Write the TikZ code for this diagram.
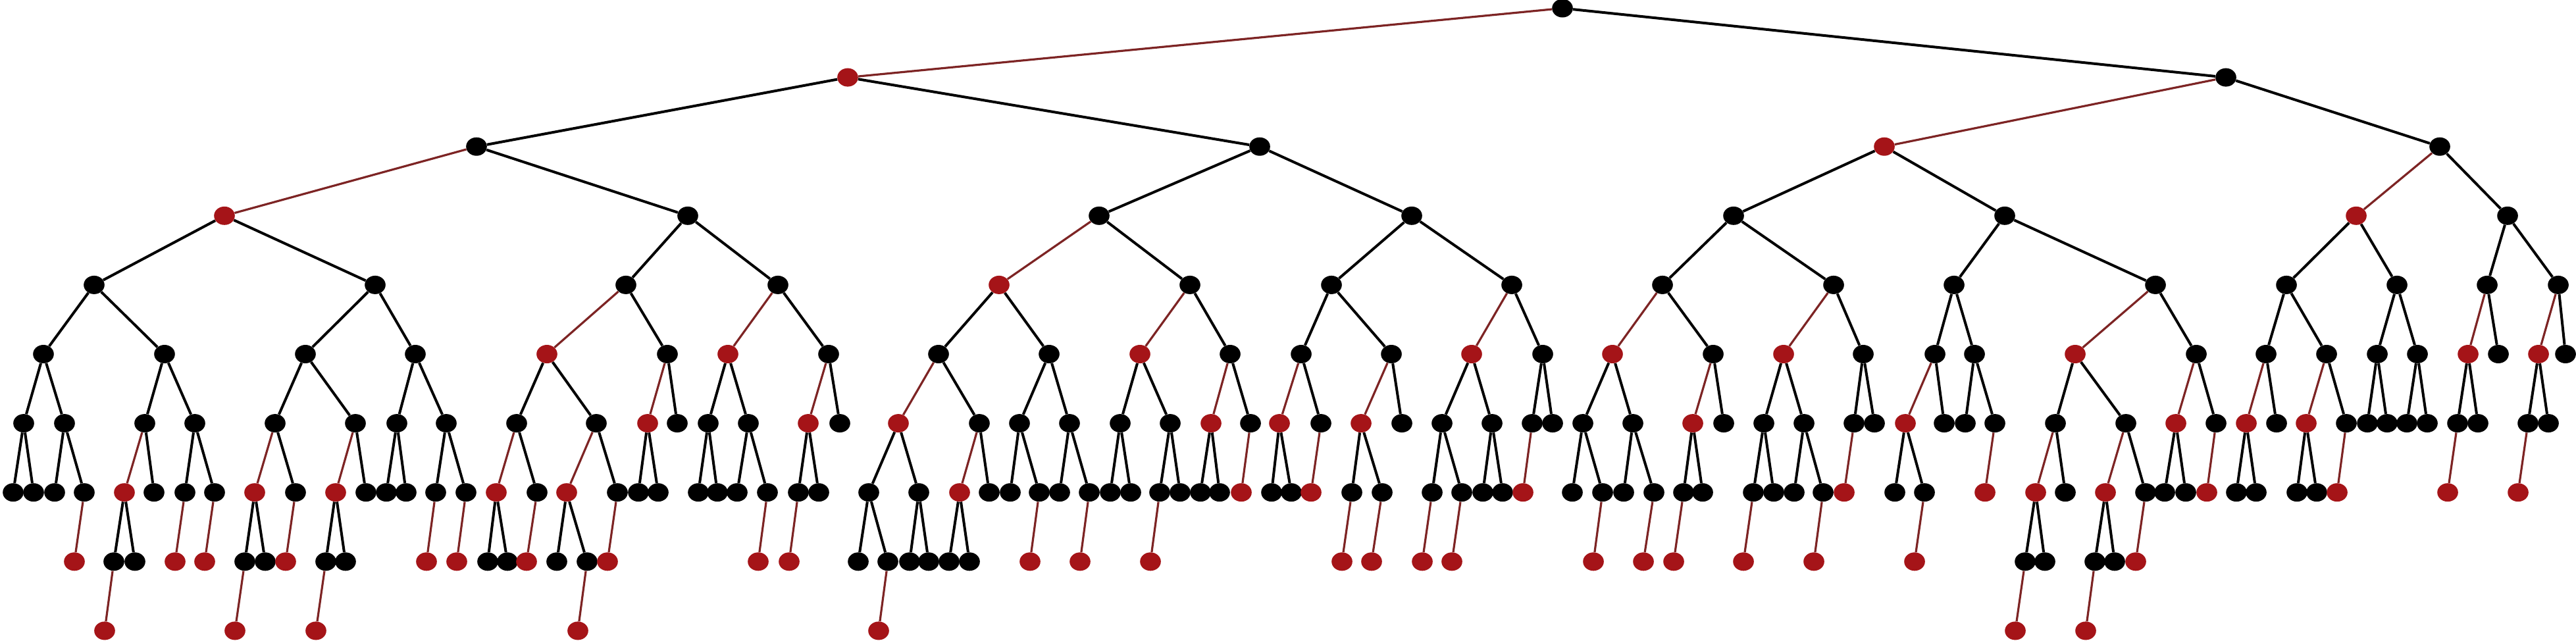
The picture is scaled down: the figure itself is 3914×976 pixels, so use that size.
\documentclass[tikz,border=0pt]{standalone}
\usetikzlibrary{shapes.geometric}
\definecolor{rbred}{RGB}{165,20,24}
\definecolor{rbedge}{RGB}{125,36,36}
\newcommand\tnd[4]{%
  \node[#3n] (n#1x#2) at (#2,{-(12.5+105.1*#1)}) {};
  \draw[#3e] (#4) -- (n#1x#2);}
\begin{document}
\begin{tikzpicture}[x=0.5pt,y=0.5pt,
  bn/.style={ellipse,fill=black,draw=none,minimum width=15.8pt,minimum height=14pt,inner sep=0pt},
  rn/.style={ellipse,fill=rbred,draw=none,minimum width=15.8pt,minimum height=14pt,inner sep=0pt},
  be/.style={draw=black,line width=2pt},
  re/.style={draw=rbedge,line width=1.6pt}]
\useasboundingbox (0,0) rectangle (3914,-976);
\fill[white] (0,0) rectangle (3914,-976);
% level 0
\node[bn] (n0x2374) at (2374,-12.5) {};
% level 1
\tnd{1}{1288}{r}{n0x2374}
\tnd{1}{3382}{b}{n0x2374}
% level 2
\tnd{2}{724}{b}{n1x1288}
\tnd{2}{1914}{b}{n1x1288}
\tnd{2}{2863}{r}{n1x3382}
\tnd{2}{3707}{b}{n1x3382}
% level 3
\tnd{3}{341}{r}{n2x724}
\tnd{3}{1045}{b}{n2x724}
\tnd{3}{1670}{b}{n2x1914}
\tnd{3}{2145}{b}{n2x1914}
\tnd{3}{2634}{b}{n2x2863}
\tnd{3}{3046}{b}{n2x2863}
\tnd{3}{3580}{r}{n2x3707}
\tnd{3}{3810}{b}{n2x3707}
% level 4
\tnd{4}{143}{b}{n3x341}
\tnd{4}{570}{b}{n3x341}
\tnd{4}{951}{b}{n3x1045}
\tnd{4}{1182}{b}{n3x1045}
\tnd{4}{1518}{r}{n3x1670}
\tnd{4}{1808}{b}{n3x1670}
\tnd{4}{2023}{b}{n3x2145}
\tnd{4}{2297}{b}{n3x2145}
\tnd{4}{2526}{b}{n3x2634}
\tnd{4}{2786}{b}{n3x2634}
\tnd{4}{2969}{b}{n3x3046}
\tnd{4}{3275}{b}{n3x3046}
\tnd{4}{3474}{b}{n3x3580}
\tnd{4}{3642}{b}{n3x3580}
\tnd{4}{3779}{b}{n3x3810}
\tnd{4}{3887}{b}{n3x3810}
% level 5
\tnd{5}{66}{b}{n4x143}
\tnd{5}{250}{b}{n4x143}
\tnd{5}{464}{b}{n4x570}
\tnd{5}{631}{b}{n4x570}
\tnd{5}{831}{r}{n4x951}
\tnd{5}{1014}{b}{n4x951}
\tnd{5}{1106}{r}{n4x1182}
\tnd{5}{1259}{b}{n4x1182}
\tnd{5}{1426}{b}{n4x1518}
\tnd{5}{1594}{b}{n4x1518}
\tnd{5}{1732}{r}{n4x1808}
\tnd{5}{1869}{b}{n4x1808}
\tnd{5}{1977}{b}{n4x2023}
\tnd{5}{2114}{b}{n4x2023}
\tnd{5}{2236}{r}{n4x2297}
\tnd{5}{2344}{b}{n4x2297}
\tnd{5}{2450}{r}{n4x2526}
\tnd{5}{2603}{b}{n4x2526}
\tnd{5}{2710}{r}{n4x2786}
\tnd{5}{2831}{b}{n4x2786}
\tnd{5}{2940}{b}{n4x2969}
\tnd{5}{3000}{b}{n4x2969}
\tnd{5}{3153}{r}{n4x3275}
\tnd{5}{3337}{b}{n4x3275}
\tnd{5}{3443}{b}{n4x3474}
\tnd{5}{3535}{b}{n4x3474}
\tnd{5}{3612}{b}{n4x3642}
\tnd{5}{3673}{b}{n4x3642}
\tnd{5}{3750}{r}{n4x3779}
\tnd{5}{3796}{b}{n4x3779}
\tnd{5}{3857}{r}{n4x3887}
\tnd{5}{3898}{b}{n4x3887}
% level 6
\tnd{6}{36}{b}{n5x66}
\tnd{6}{98}{b}{n5x66}
\tnd{6}{220}{b}{n5x250}
\tnd{6}{296}{b}{n5x250}
\tnd{6}{418}{b}{n5x464}
\tnd{6}{540}{b}{n5x464}
\tnd{6}{603}{b}{n5x631}
\tnd{6}{678}{b}{n5x631}
\tnd{6}{785}{b}{n5x831}
\tnd{6}{906}{b}{n5x831}
\tnd{6}{984}{r}{n5x1014}
\tnd{6}{1029}{b}{n5x1014}
\tnd{6}{1076}{b}{n5x1106}
\tnd{6}{1137}{b}{n5x1106}
\tnd{6}{1228}{r}{n5x1259}
\tnd{6}{1276}{b}{n5x1259}
\tnd{6}{1365}{r}{n5x1426}
\tnd{6}{1488}{b}{n5x1426}
\tnd{6}{1549}{b}{n5x1594}
\tnd{6}{1625}{b}{n5x1594}
\tnd{6}{1702}{b}{n5x1732}
\tnd{6}{1778}{b}{n5x1732}
\tnd{6}{1840}{r}{n5x1869}
\tnd{6}{1900}{b}{n5x1869}
\tnd{6}{1944}{r}{n5x1977}
\tnd{6}{2007}{b}{n5x1977}
\tnd{6}{2068}{r}{n5x2114}
\tnd{6}{2130}{b}{n5x2114}
\tnd{6}{2191}{b}{n5x2236}
\tnd{6}{2267}{b}{n5x2236}
\tnd{6}{2328}{b}{n5x2344}
\tnd{6}{2359}{b}{n5x2344}
\tnd{6}{2405}{b}{n5x2450}
\tnd{6}{2481}{b}{n5x2450}
\tnd{6}{2572}{r}{n5x2603}
\tnd{6}{2619}{b}{n5x2603}
\tnd{6}{2680}{b}{n5x2710}
\tnd{6}{2741}{b}{n5x2710}
\tnd{6}{2817}{b}{n5x2831}
\tnd{6}{2848}{b}{n5x2831}
\tnd{6}{2895}{r}{n5x2940}
\tnd{6}{2954}{b}{n5x2940}
\tnd{6}{2986}{b}{n5x3000}
\tnd{6}{3031}{b}{n5x3000}
\tnd{6}{3123}{b}{n5x3153}
\tnd{6}{3230}{b}{n5x3153}
\tnd{6}{3306}{r}{n5x3337}
\tnd{6}{3367}{b}{n5x3337}
\tnd{6}{3413}{r}{n5x3443}
\tnd{6}{3459}{b}{n5x3443}
\tnd{6}{3504}{r}{n5x3535}
\tnd{6}{3565}{b}{n5x3535}
\tnd{6}{3597}{b}{n5x3612}
\tnd{6}{3627}{b}{n5x3612}
\tnd{6}{3657}{b}{n5x3673}
\tnd{6}{3688}{b}{n5x3673}
\tnd{6}{3734}{b}{n5x3750}
\tnd{6}{3765}{b}{n5x3750}
\tnd{6}{3841}{b}{n5x3857}
\tnd{6}{3872}{b}{n5x3857}
% level 7
\tnd{7}{20}{b}{n6x36}
\tnd{7}{51}{b}{n6x36}
\tnd{7}{83}{b}{n6x98}
\tnd{7}{128}{b}{n6x98}
\tnd{7}{189}{r}{n6x220}
\tnd{7}{234}{b}{n6x220}
\tnd{7}{281}{b}{n6x296}
\tnd{7}{326}{b}{n6x296}
\tnd{7}{387}{r}{n6x418}
\tnd{7}{449}{b}{n6x418}
\tnd{7}{510}{r}{n6x540}
\tnd{7}{556}{b}{n6x540}
\tnd{7}{587}{b}{n6x603}
\tnd{7}{617}{b}{n6x603}
\tnd{7}{662}{b}{n6x678}
\tnd{7}{708}{b}{n6x678}
\tnd{7}{754}{r}{n6x785}
\tnd{7}{816}{b}{n6x785}
\tnd{7}{861}{r}{n6x906}
\tnd{7}{938}{b}{n6x906}
\tnd{7}{970}{b}{n6x984}
\tnd{7}{1000}{b}{n6x984}
\tnd{7}{1061}{b}{n6x1076}
\tnd{7}{1090}{b}{n6x1076}
\tnd{7}{1120}{b}{n6x1137}
\tnd{7}{1166}{b}{n6x1137}
\tnd{7}{1213}{b}{n6x1228}
\tnd{7}{1244}{b}{n6x1228}
\tnd{7}{1320}{b}{n6x1365}
\tnd{7}{1396}{b}{n6x1365}
\tnd{7}{1458}{r}{n6x1488}
\tnd{7}{1503}{b}{n6x1488}
\tnd{7}{1535}{b}{n6x1549}
\tnd{7}{1579}{b}{n6x1549}
\tnd{7}{1610}{b}{n6x1625}
\tnd{7}{1655}{b}{n6x1625}
\tnd{7}{1687}{b}{n6x1702}
\tnd{7}{1718}{b}{n6x1702}
\tnd{7}{1762}{b}{n6x1778}
\tnd{7}{1793}{b}{n6x1778}
\tnd{7}{1824}{b}{n6x1840}
\tnd{7}{1853}{b}{n6x1840}
\tnd{7}{1886}{r}{n6x1900}
\tnd{7}{1932}{b}{n6x1944}
\tnd{7}{1962}{b}{n6x1944}
\tnd{7}{1992}{r}{n6x2007}
\tnd{7}{2054}{b}{n6x2068}
\tnd{7}{2100}{b}{n6x2068}
\tnd{7}{2176}{b}{n6x2191}
\tnd{7}{2221}{b}{n6x2191}
\tnd{7}{2253}{b}{n6x2267}
\tnd{7}{2283}{b}{n6x2267}
\tnd{7}{2314}{r}{n6x2328}
\tnd{7}{2389}{b}{n6x2405}
\tnd{7}{2435}{b}{n6x2405}
\tnd{7}{2467}{b}{n6x2481}
\tnd{7}{2513}{b}{n6x2481}
\tnd{7}{2558}{b}{n6x2572}
\tnd{7}{2587}{b}{n6x2572}
\tnd{7}{2664}{b}{n6x2680}
\tnd{7}{2695}{b}{n6x2680}
\tnd{7}{2726}{b}{n6x2741}
\tnd{7}{2770}{b}{n6x2741}
\tnd{7}{2802}{r}{n6x2817}
\tnd{7}{2879}{b}{n6x2895}
\tnd{7}{2924}{b}{n6x2895}
\tnd{7}{3016}{r}{n6x3031}
\tnd{7}{3093}{r}{n6x3123}
\tnd{7}{3138}{b}{n6x3123}
\tnd{7}{3199}{r}{n6x3230}
\tnd{7}{3260}{b}{n6x3230}
\tnd{7}{3289}{b}{n6x3306}
\tnd{7}{3321}{b}{n6x3306}
\tnd{7}{3353}{r}{n6x3367}
\tnd{7}{3398}{b}{n6x3413}
\tnd{7}{3428}{b}{n6x3413}
\tnd{7}{3490}{b}{n6x3504}
\tnd{7}{3520}{b}{n6x3504}
\tnd{7}{3551}{r}{n6x3565}
\tnd{7}{3719}{r}{n6x3734}
\tnd{7}{3826}{r}{n6x3841}
% level 8
\tnd{8}{113}{r}{n7x128}
\tnd{8}{173}{b}{n7x189}
\tnd{8}{205}{b}{n7x189}
\tnd{8}{266}{r}{n7x281}
\tnd{8}{311}{r}{n7x326}
\tnd{8}{372}{b}{n7x387}
\tnd{8}{403}{b}{n7x387}
\tnd{8}{434}{r}{n7x449}
\tnd{8}{495}{b}{n7x510}
\tnd{8}{525}{b}{n7x510}
\tnd{8}{648}{r}{n7x662}
\tnd{8}{694}{r}{n7x708}
\tnd{8}{741}{b}{n7x754}
\tnd{8}{771}{b}{n7x754}
\tnd{8}{800}{r}{n7x816}
\tnd{8}{846}{b}{n7x861}
\tnd{8}{892}{b}{n7x861}
\tnd{8}{923}{r}{n7x938}
\tnd{8}{1152}{r}{n7x1166}
\tnd{8}{1199}{r}{n7x1213}
\tnd{8}{1304}{b}{n7x1320}
\tnd{8}{1349}{b}{n7x1320}
\tnd{8}{1382}{b}{n7x1396}
\tnd{8}{1411}{b}{n7x1396}
\tnd{8}{1442}{b}{n7x1458}
\tnd{8}{1473}{b}{n7x1458}
\tnd{8}{1565}{r}{n7x1579}
\tnd{8}{1641}{r}{n7x1655}
\tnd{8}{1748}{r}{n7x1762}
\tnd{8}{2039}{r}{n7x2054}
\tnd{8}{2084}{r}{n7x2100}
\tnd{8}{2161}{r}{n7x2176}
\tnd{8}{2206}{r}{n7x2221}
\tnd{8}{2421}{r}{n7x2435}
\tnd{8}{2497}{r}{n7x2513}
\tnd{8}{2543}{r}{n7x2558}
\tnd{8}{2649}{r}{n7x2664}
\tnd{8}{2756}{r}{n7x2770}
\tnd{8}{2909}{r}{n7x2924}
\tnd{8}{3077}{b}{n7x3093}
\tnd{8}{3107}{b}{n7x3093}
\tnd{8}{3183}{b}{n7x3199}
\tnd{8}{3213}{b}{n7x3199}
\tnd{8}{3245}{r}{n7x3260}
% level 9
\tnd{9}{159}{r}{n8x173}
\tnd{9}{357}{r}{n8x372}
\tnd{9}{480}{r}{n8x495}
\tnd{9}{878}{r}{n8x892}
\tnd{9}{1335}{r}{n8x1349}
\tnd{9}{3062}{r}{n8x3077}
\tnd{9}{3169}{r}{n8x3183}
\end{tikzpicture}
\end{document}
